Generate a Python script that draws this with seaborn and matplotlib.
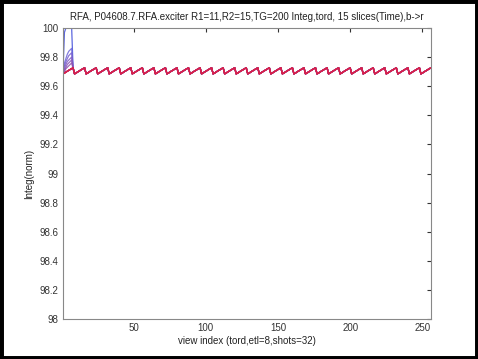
import numpy as np
import pandas as pd
import matplotlib
matplotlib.use("Agg")
import matplotlib.pyplot as plt
import seaborn as sns
from matplotlib.patches import Rectangle

# ---- data ----
title = "RFA, P04608.7.RFA.exciter R1=11,R2=15,TG=200 Integ,tord, 15 slices(Time),b->r"
xlabel = "view index (tord,etl=8,shots=32)"
ylabel = "Integ(norm)"
n_slices = 15
n_shots = 32
# steady-state value within one shot (8 views, etl=8)
tooth = [99.685, 99.690, 99.697, 99.703, 99.709, 99.715, 99.721, 99.726]
# first shot of the earliest slices (transient), others follow the steady tooth
first_shot = {
    0: [99.70, 99.97, 100.0, 100.0, 100.0, 100.0, 100.0, 99.72],
    1: [99.70, 99.76, 99.79, 99.82, 99.84, 99.85, 99.86, 99.72],
    2: [99.70, 99.74, 99.77, 99.79, 99.81, 99.82, 99.83, 99.72],
    3: [99.69, 99.72, 99.75, 99.77, 99.78, 99.79, 99.80, 99.72],
    4: [99.69, 99.71, 99.73, 99.75, 99.76, 99.77, 99.78, 99.72],
    5: [99.69, 99.70, 99.72, 99.73, 99.74, 99.75, 99.76, 99.72],
}
xticks = [50, 100, 150, 200, 250]
yticks = [98, 98.2, 98.4, 98.6, 98.8, 99, 99.2, 99.4, 99.6, 99.8, 100]

rows = []
for s in range(n_slices):
    vals = list(first_shot.get(s, tooth)) + list(tooth) * (n_shots - 1)
    for i, v in enumerate(vals):
        rows.append({"view": i + 1, "integ": v, "slice": s})
df = pd.DataFrame(rows)

c0 = np.array([0.40, 0.42, 0.90])
c1 = np.array([0.86, 0.12, 0.28])
palette = [tuple(c0 + (c1 - c0) * s / (n_slices - 1)) for s in range(n_slices)]
palette[0] = (0.25, 0.30, 0.85)

sns.set_style("white")
plt.rcParams["font.family"] = ["Liberation Sans", "DejaVu Sans"]

fig = plt.figure(figsize=(4.78, 3.59), dpi=100)
ax = fig.add_axes([63 / 478, 1 - 319 / 359, (431 - 63) / 478, (319 - 28) / 359])
sns.lineplot(data=df, x="view", y="integ", hue="slice", palette=palette,
             legend=False, ax=ax, linewidth=0.9, estimator=None, alpha=0.85)

ax.set_xlim(1, 256)
ax.set_ylim(98, 100)
ax.set_xticks(xticks)
ax.set_yticks(yticks)
ax.set_yticklabels([f"{t:g}" for t in yticks])
ax.tick_params(direction="in", length=3, labelsize=7, colors="#333333",
               top=True, right=True, labeltop=False, labelright=False, pad=3)
for sp in ax.spines.values():
    sp.set_color("#888888")
    sp.set_linewidth(0.8)
ax.set_xlabel(xlabel, fontsize=7, color="#222222", labelpad=2)
ax.set_ylabel(ylabel, fontsize=7, color="#222222", labelpad=4)
ax.set_title(title, fontsize=7, color="#222222", pad=6)

fig.patches.append(Rectangle((0, 0), 1, 1, transform=fig.transFigure, fill=False,
                             edgecolor="black", linewidth=5, zorder=10))
fig.savefig("out.png", dpi=100)
